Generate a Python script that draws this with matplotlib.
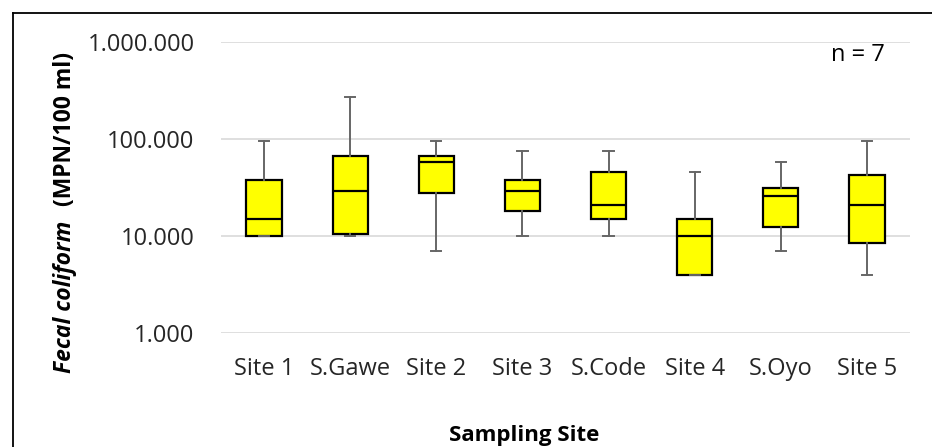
import matplotlib
matplotlib.use("Agg")
import matplotlib.pyplot as plt
from matplotlib.lines import Line2D

plt.rcParams["font.family"] = ["Open Sans", "DejaVu Sans"]

sites = ["Site 1", "S.Gawe", "Site 2", "Site 3", "S.Code", "Site 4", "S.Oyo", "Site 5"]
whisker_low = [10000, 10000, 7100, 10000, 10000, 4000, 7100, 4000]
q1 = [10000, 10600, 28000, 18100, 15100, 4000, 12500, 8500]
median = [15100, 29300, 58300, 29300, 21000, 10000, 26000, 21000]
q3 = [37800, 67800, 67800, 37800, 46000, 15100, 31000, 42800]
whisker_high = [96000, 271000, 96000, 75700, 75700, 46000, 58300, 96000]

y_ticks = [1000, 10000, 100000, 1000000]
y_tick_labels = ["1.000", "10.000", "100.000", "1.000.000"]

W, H = 932, 447


def fx(px):
    return px / W


def fy(py):
    return 1 - py / H


fig = plt.figure(figsize=(9.32, 4.47), dpi=100)
ax = fig.add_axes([fx(221), fy(333), fx(910) - fx(221), fy(42.3) - fy(333)])

stats = []
for i, name in enumerate(sites):
    stats.append(dict(label=name, whislo=whisker_low[i], q1=q1[i], med=median[i],
                      q3=q3[i], whishi=whisker_high[i], fliers=[]))

ax.bxp(stats, positions=range(len(sites)), widths=0.41, capwidths=0.12,
       showfliers=False, patch_artist=True,
       boxprops=dict(facecolor="#ffff00", edgecolor="black", linewidth=1.6),
       medianprops=dict(color="black", linewidth=1.6),
       whiskerprops=dict(color="#666666", linewidth=1.4),
       capprops=dict(color="#666666", linewidth=1.4))

ax.set_yscale("log")
ax.set_ylim(1000, 1000000)
ax.set_xlim(-0.5, len(sites) - 0.5)
ax.set_yticks(y_ticks)
ax.set_yticklabels(y_tick_labels)
ax.minorticks_off()
ax.set_xticks(range(len(sites)))
ax.set_xticklabels(sites)
ax.tick_params(axis="both", length=0, labelsize=17, colors="#262626")
ax.tick_params(axis="y", pad=19)
ax.tick_params(axis="x", pad=17)
ax.grid(axis="y", color="#d9d9d9", linewidth=1.2)
ax.set_axisbelow(True)
for s in ax.spines.values():
    s.set_visible(False)

fig.text(fx(885), fy(55), "n = 7", ha="right", va="center", fontsize=17)

# split y label: italic part + plain part
fig.text(fx(65), fy(373), "Fecal coliform", rotation=90, ha="center", va="bottom",
         fontsize=16.5, fontweight="bold", fontstyle="italic")
fig.text(fx(65), fy(52), "(MPN/100 ml)", rotation=90, ha="center", va="top",
         fontsize=16.5, fontweight="bold")

fig.text(fx(524), fy(446), "Sampling Site", ha="center", va="bottom",
         fontsize=16, fontweight="bold")

# chart frame (cropped at right and bottom)
fig.add_artist(Line2D([fx(13), fx(13)], [fy(13), -0.1], color="black", lw=1.3))
fig.add_artist(Line2D([fx(13), 1.1], [fy(13), fy(13)], color="black", lw=1.3))

fig.savefig("out.png", dpi=100)
